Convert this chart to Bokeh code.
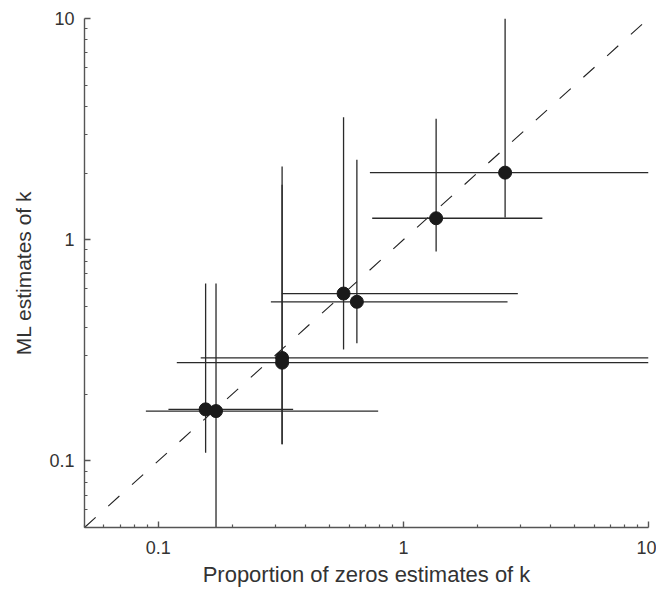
from bokeh.plotting import figure
from bokeh.models import FixedTicker, Range1d
from bokeh.embed import file_html
from bokeh.resources import INLINE

# Data (log-log axes)
pz_k = [2.60, 1.36, 0.570, 0.646, 0.320, 0.320, 0.156, 0.172]      # proportion-of-zeros estimate
ml_k = [2.01, 1.25, 0.571, 0.524, 0.292, 0.278, 0.171, 0.168]      # ML estimate
pz_lo = [0.73, 0.746, 0.319, 0.288, 0.149, 0.119, 0.110, 0.089]
pz_hi = [10.0, 3.69, 2.93, 2.66, 10.0, 10.0, 0.355, 0.789]
ml_lo = [1.26, 0.885, 0.319, 0.340, 0.119, 0.119, 0.109, 0.04]
ml_hi = [10.0, 3.52, 3.58, 2.30, 2.14, 1.77, 0.634, 0.634]
diag = [0.05, 10.0]

major_ticks = [0.1, 1, 10]
tick_labels = ["0.1", "1", "10"]
minor_ticks = [m * d for d in (0.01, 0.1, 1) for m in range(2, 10) if 0.05 <= m * d <= 10]

FONT = "Liberation Sans"

p = figure(width=656, height=590, x_axis_type="log", y_axis_type="log",
           x_range=Range1d(0.05, 10), y_range=Range1d(0.05, 10),
           output_backend="svg", toolbar_location=None,
           min_border_left=84, min_border_right=8, min_border_top=18, min_border_bottom=63)

p.grid.visible = False
p.outline_line_color = None
p.background_fill_color = "white"
p.border_fill_color = "white"

# dashed 1:1 line
p.line(diag, diag, line_color="#222222", line_width=1.1, line_dash="15 17")

# error bars
p.segment(x0=pz_lo, y0=ml_k, x1=pz_hi, y1=ml_k, line_color="#2a2a2a", line_width=1.3)
p.segment(x0=pz_k, y0=ml_lo, x1=pz_k, y1=ml_hi, line_color="#2a2a2a", line_width=1.3)

# points
p.scatter(pz_k, ml_k, size=13, fill_color="#1a1a1a", line_color="#1a1a1a")

for ax in (p.xaxis[0], p.yaxis[0]):
    ax.ticker = FixedTicker(ticks=major_ticks, minor_ticks=minor_ticks)
    ax.major_label_overrides = {t: l for t, l in zip(major_ticks, tick_labels)}
    ax.major_tick_in = 6
    ax.major_tick_out = 0
    ax.minor_tick_in = 3
    ax.minor_tick_out = 0
    ax.axis_line_color = "#555555"
    ax.axis_line_width = 1.4
    ax.major_tick_line_color = "#555555"
    ax.minor_tick_line_color = "#555555"
    ax.major_tick_line_width = 1.4
    ax.minor_tick_line_width = 1.2
    ax.major_label_text_font = FONT
    ax.major_label_text_font_size = "18px"
    ax.major_label_text_color = "#333333"
    ax.axis_label_text_font = FONT
    ax.axis_label_text_font_style = "normal"
    ax.axis_label_text_color = "#333333"

p.xaxis.axis_label = "Proportion of zeros estimates of k"
p.yaxis.axis_label = "ML estimates of k"
p.xaxis.axis_label_text_font_size = "22px"
p.yaxis.axis_label_text_font_size = "21px"
p.xaxis.major_label_standoff = 13
p.yaxis.major_label_standoff = 10
p.xaxis.axis_label_standoff = 5
p.yaxis.axis_label_standoff = 11

open("out.html", "w").write(file_html(p, INLINE))
